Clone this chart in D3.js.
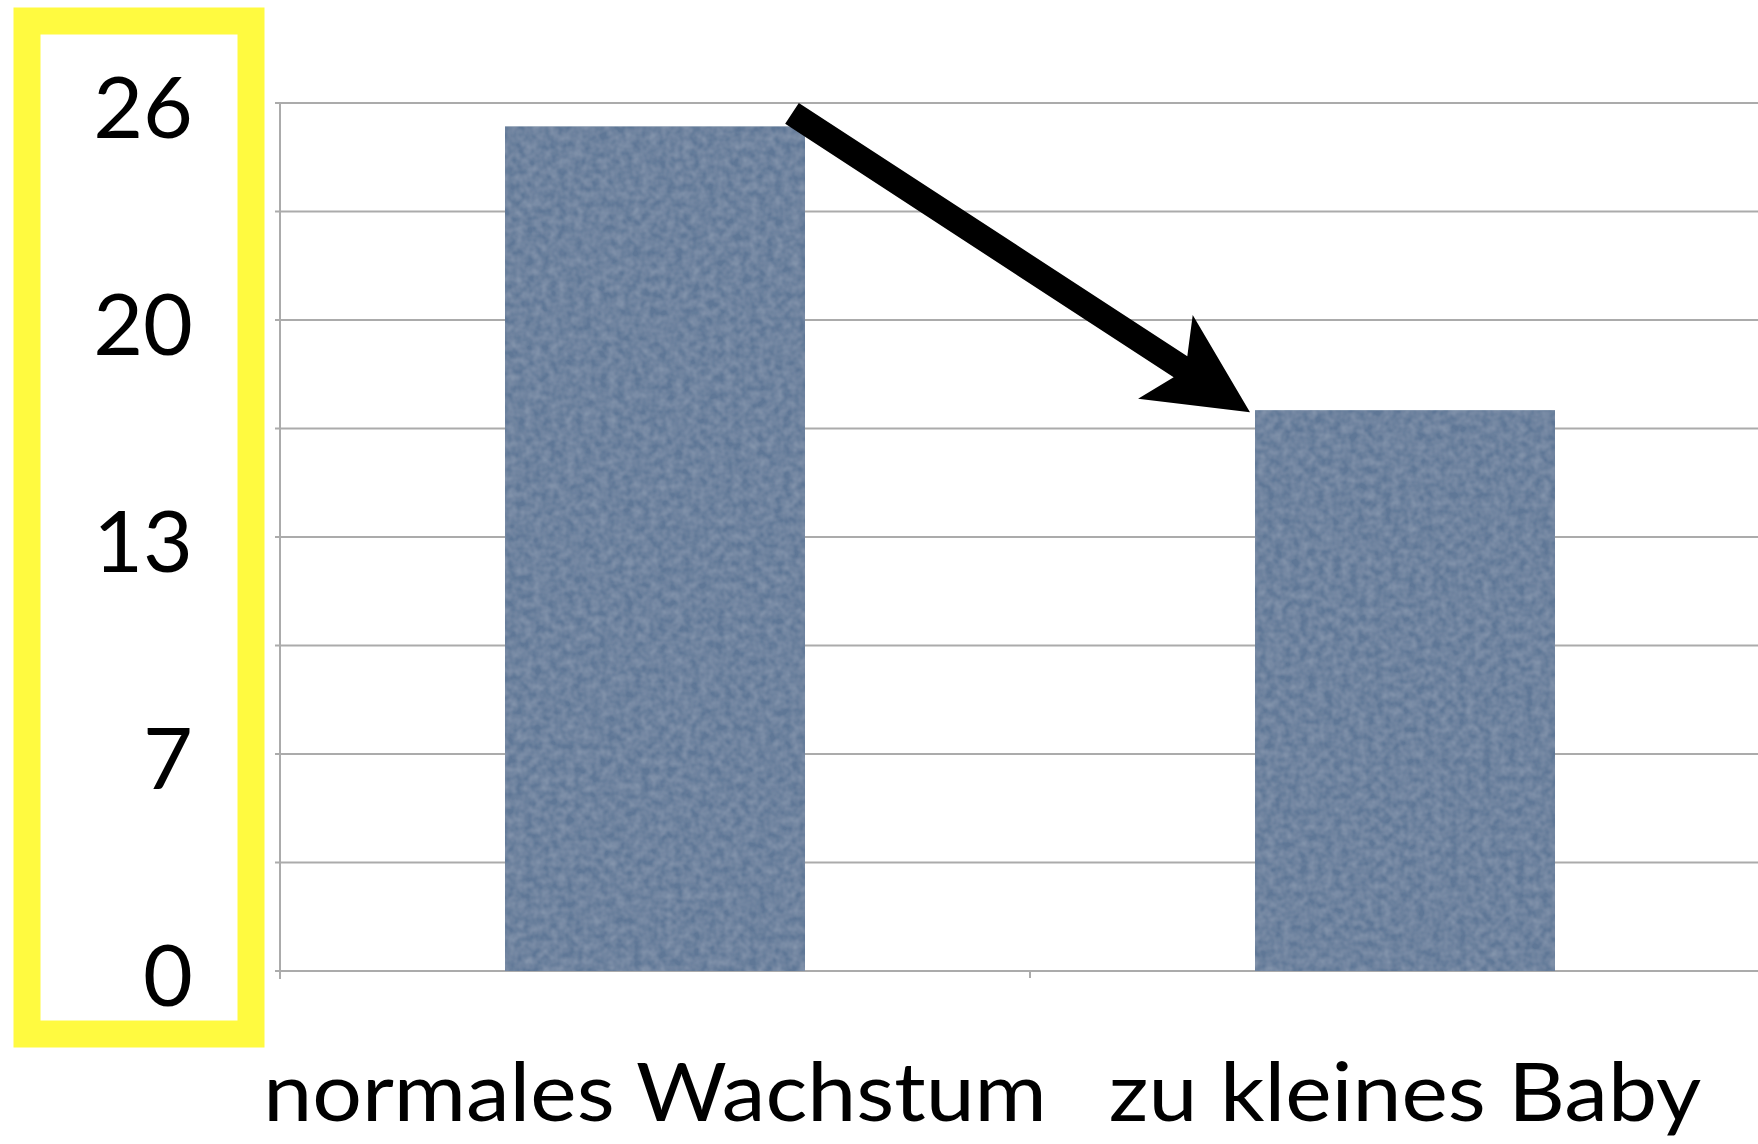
<!DOCTYPE html>
<html>
<head>
<meta charset="utf-8">
<script src="https://cdn.jsdelivr.net/npm/d3@7"></script>
<style>
  body { margin: 0; background: #fff; }
  svg { display: block; }
</style>
</head>
<body>
<script>
// values
const categories = ["normales Wachstum", "zu kleines Baby"];
const values = [25.3, 16.8];
const gridValues = [0, 3.25, 6.5, 9.75, 13, 16.25, 19.5, 22.75, 26];
const labelValues = [0, 6.5, 13, 19.5, 26];
const labelTexts = ["0", "7", "13", "20", "26"];

const width = 1758, height = 1144;
const font = "Lato, 'Open Sans', sans-serif";
const gridColor = "#ababab";
const barColor = "#5f7796";

const svg = d3.select("body").append("svg")
    .attr("width", width)
    .attr("height", height)
    .attr("font-family", font);

// faint grain on the bars, like the original paper texture
const defs = svg.append("defs");
const f = defs.append("filter").attr("id", "grain")
    .attr("x", 0).attr("y", 0).attr("width", "100%").attr("height", "100%");
f.append("feTurbulence").attr("type", "fractalNoise")
    .attr("baseFrequency", 0.12).attr("numOctaves", 2).attr("seed", 4).attr("result", "noise");
f.append("feColorMatrix").attr("in", "noise").attr("type", "matrix")
    .attr("values", "0 0 0 0 0.6  0 0 0 0 0.66  0 0 0 0 0.76  0 0 0.35 0 -0.08")
    .attr("result", "tint");
f.append("feComposite").attr("in", "tint").attr("in2", "SourceGraphic").attr("operator", "in").attr("result", "spots");
const merge = f.append("feMerge");
merge.append("feMergeNode").attr("in", "SourceGraphic");
merge.append("feMergeNode").attr("in", "spots");

const y = d3.scaleLinear().domain([0, 26]).range([971, 103]);
const x = d3.scaleBand().domain(categories).range([280, 1780])
    .paddingInner(0.6).paddingOuter(0.3);
const gap = x.step() - x.bandwidth();

// gridlines
svg.append("g")
  .selectAll("line")
  .data(gridValues)
  .join("line")
    .attr("x1", 275)
    .attr("x2", width)
    .attr("y1", d => y(d))
    .attr("y2", d => y(d))
    .attr("stroke", gridColor)
    .attr("stroke-width", 2);

// y axis line
svg.append("line")
    .attr("x1", 280).attr("x2", 280)
    .attr("y1", y(26)).attr("y2", y(0) + 8)
    .attr("stroke", gridColor).attr("stroke-width", 2);

// tick between the two categories
svg.append("g")
  .selectAll("line")
  .data(categories.slice(1))
  .join("line")
    .attr("x1", d => x(d) - gap / 2)
    .attr("x2", d => x(d) - gap / 2)
    .attr("y1", y(0))
    .attr("y2", y(0) + 7)
    .attr("stroke", gridColor).attr("stroke-width", 2);

// bars
svg.append("g")
  .selectAll("rect")
  .data(categories)
  .join("rect")
    .attr("x", d => x(d))
    .attr("width", x.bandwidth())
    .attr("y", (d, i) => y(values[i]))
    .attr("height", (d, i) => y(0) - y(values[i]))
    .attr("fill", barColor)
    .attr("filter", "url(#grain)");

// y labels
svg.append("g")
  .selectAll("text")
  .data(labelValues)
  .join("text")
    .attr("x", 193)
    .attr("y", d => y(d) + 35)
    .attr("text-anchor", "end")
    .attr("font-size", 86)
    .attr("fill", "#000")
    .text((d, i) => labelTexts[i]);

// x labels (Gill Sans in the original runs a bit wider than Lato)
svg.append("g")
  .selectAll("text")
  .data(categories)
  .join("text")
    .attr("x", d => x(d) + x.bandwidth() / 2)
    .attr("y", 1121)
    .attr("text-anchor", "middle")
    .attr("font-size", 82)
    .attr("fill", "#000")
    .text(d => d)
    .each(function() {
      const w = this.getComputedTextLength();
      this.setAttribute("textLength", w * 1.07);
      this.setAttribute("lengthAdjust", "spacingAndGlyphs");
    });

// yellow highlight frame round the y labels
svg.append("rect")
    .attr("x", 27).attr("y", 21)
    .attr("width", 224).attr("height", 1013)
    .attr("fill", "none")
    .attr("stroke", "#fffa40")
    .attr("stroke-width", 27);

// arrow from top of first bar down to second bar
const c0 = categories[0], c1 = categories[1];
const tail = [x(c0) + x.bandwidth() - 13, y(values[0]) - 13];
const tip = [x(c1) - 5, y(values[1]) + 2];
const dx = tip[0] - tail[0], dy = tip[1] - tail[1];
const len = Math.hypot(dx, dy);
const ang = Math.atan2(dy, dx) * 180 / Math.PI;
const sw = 12.5, headBack = 101, notch = 83, headW = 50;
const arrowPts = [
  [0, -sw], [len - notch, -sw], [len - headBack, -headW], [len, 0],
  [len - headBack, headW], [len - notch, sw], [0, sw]
];
svg.append("path")
    .attr("transform", `translate(${tail[0]},${tail[1]}) rotate(${ang})`)
    .attr("d", d3.line()(arrowPts) + "Z")
    .attr("fill", "#000");
</script>
</body>
</html>
